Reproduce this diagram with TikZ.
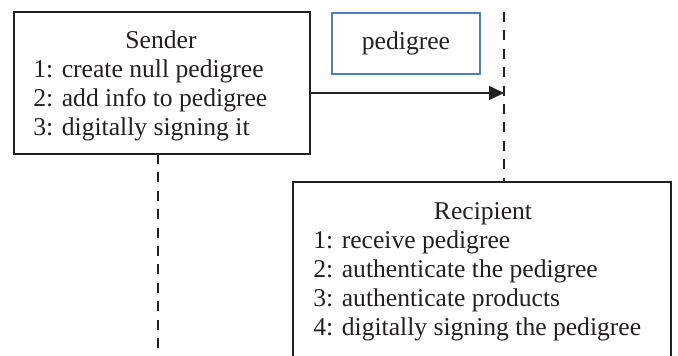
\documentclass[tikz,border=0pt]{standalone}
\usepackage{fontspec}
\setmainfont{Liberation Serif}
\usetikzlibrary{positioning,arrows.meta}
\definecolor{pedblue}{RGB}{79,129,189}
\definecolor{ink}{RGB}{35,31,32}

\begin{document}
\begin{tikzpicture}[
  x=0.5pt,y=-0.5pt,
  >={Triangle[length=7.5pt,width=7pt]},
  font=\fontsize{12.8}{14.7}\selectfont,
  color=ink,
  box/.style     ={draw=ink,line width=0.65pt,inner sep=0pt},
  msgbox/.style  ={draw=pedblue,line width=1pt,inner sep=0pt,
                    minimum width=74pt,minimum height=30.5pt},
  title/.style   ={inner sep=0pt,anchor=base},
  steps/.style   ={inner sep=0pt,anchor=base west,align=left},
  lifeline/.style={draw=ink,line width=1pt,dash pattern=on 5pt off 4.2pt},
  msg/.style     ={->,draw=ink,line width=0.8pt}]

\useasboundingbox (0,0) rectangle (678,356);
\clip (0,0) rectangle (678,356);

% --- sender object ---
\node[box,minimum width=148pt,minimum height=71pt] (sender) at (162,83) {};
\node[title] (sendertitle) at (161,49) {Sender};
% (base of a multi-line node sits on its last line)
\node[steps] (sendersteps) at (33,136)
  {1: create null pedigree\\
   2: add info to pedigree\\
   3: digitally signing it};

% --- message being passed ---
\node[msgbox] (pedigree) at (406,43.5) {pedigree};

% --- recipient object (runs off the bottom) ---
\node[box,minimum width=189pt,minimum height=95pt] (recipient) at (482,277) {};
\node[title] (recipienttitle) at (483,220) {Recipient};
\node[steps,font=\fontsize{12.8}{14.6}\selectfont] (recipientsteps) at (313,336)
  {1: receive pedigree\\
   2: authenticate the pedigree\\
   3: authenticate products\\
   4: digitally signing the pedigree};

% --- life lines ---
\coordinate (sendtop) at (158,154);
\coordinate (sendend) at (158,348);
\coordinate (recvtop) at (504,12);
\coordinate (recvend) at (504,182);
\draw[lifeline] (sendtop) -- (sendend);
\draw[lifeline] (recvtop) -- (recvend);

% --- send ---
\coordinate (sendout) at (sender.east |- 0,93);
\coordinate (recvin) at (504,93);
\draw[msg] (sendout) -- (recvin);

\end{tikzpicture}
\end{document}
